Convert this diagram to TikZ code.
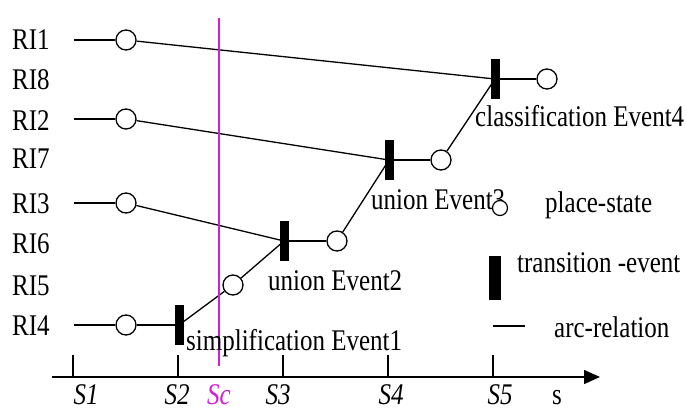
\documentclass[tikz,border=0pt]{standalone}
\usepackage{fontspec}
\usepackage{graphicx}
\setmainfont{Liberation Serif}
\usetikzlibrary{arrows.meta}
\newcommand{\vstr}[1]{\scalebox{1}[1.2]{#1}}
\definecolor{mag}{RGB}{210,30,210}
\begin{document}
\begin{tikzpicture}[x=1pt,y=-1pt,
  txt/.style={inner sep=0pt,anchor=base west,font=\fontsize{25}{30}\selectfont},
  axlab/.style={inner sep=0pt,anchor=base,font=\fontsize{25}{30}\selectfont\itshape},
  place/.style={circle,draw,fill=white,line width=1.3pt,minimum size=20pt,inner sep=0pt},
  trans/.style={rectangle,fill=black,minimum width=9pt,minimum height=40pt,inner sep=0pt},
  arc/.style={line width=1.3pt}]
\useasboundingbox (0,0) rectangle (686,412);
% row labels
\node[txt] (l1) at (12,50) {\vstr{RI1}};
\node[txt] (l8) at (12,90) {\vstr{RI8}};
\node[txt] (l2) at (12,130) {\vstr{RI2}};
\node[txt] (l7) at (12,168) {\vstr{RI7}};
\node[txt] (l3) at (12,213) {\vstr{RI3}};
\node[txt] (l6) at (12,253) {\vstr{RI6}};
\node[txt] (l5) at (12,295) {\vstr{RI5}};
\node[txt] (l4) at (12,335) {\vstr{RI4}};
% start coordinates
\coordinate (s1) at (74,40);
\coordinate (s2) at (74,119);
\coordinate (s3) at (74,203);
\coordinate (s4) at (74,325);
% magenta cut line
\coordinate (mt) at (219,18);
\coordinate (mb) at (219,366);
% transitions
\node[trans] (t1) at (179,325) {};
\node[trans] (t2) at (284,241) {};
\node[trans] (t3) at (389,160) {};
\node[trans] (t4) at (495,79) {};
% places
\node[place] (p1) at (126,40) {};
\node[place] (p2) at (126,119) {};
\node[place] (p3) at (126,203) {};
\node[place] (p4) at (126,325) {};
\node[place] (p5) at (233,285) {};
\node[place] (p6) at (337,241) {};
\node[place] (p7) at (441,160) {};
\node[place] (p8) at (547,79) {};
% arcs
\draw[arc] (s1) -- (p1);
\draw[arc] (s2) -- (p2);
\draw[arc] (s3) -- (p3);
\draw[arc] (s4) -- (p4);
\draw[arc] (p1) -- (t4.center);
\draw[arc] (p2) -- (t3.center);
\draw[arc] (p3) -- (t2.center);
\draw[arc] (p4) -- (t1.center);
\draw[arc] (t1.center) -- (p5);
\draw[arc] (p5) -- (t2.center);
\draw[arc] (t2.center) -- (p6);
\draw[arc] (p6) -- (t3.center);
\draw[arc] (t3.center) -- (p7);
\draw[arc] (p7) -- (t4.center);
\draw[arc] (t4.center) -- (p8);
\draw[mag,line width=1.5pt] (mt) -- (mb);
% event labels
\node[txt] (e4) at (475,126) {\vstr{classification Event4}};
\node[txt] (e3) at (371,209) {\vstr{union Event3}};
\node[txt] (e2) at (268,290) {\vstr{union Event2}};
\node[txt] (e1) at (186,350) {\vstr{simplification Event1}};
% legend
\node[place,line width=1.2pt,minimum size=15pt] (lp) at (500,208) {};
\node[txt] (lpt) at (545,212) {\vstr{place-state}};
\node[trans,minimum width=12pt,minimum height=44pt] (lt) at (495,278) {};
\node[txt] (ltt) at (517,272) {\vstr{transition -event}};
\coordinate (la1) at (493,326);
\coordinate (la2) at (525,326);
\draw[arc] (la1) -- (la2);
\node[txt] (lat) at (554,337) {\vstr{arc-relation}};
% axis
\coordinate (ax0) at (52,377);
\coordinate (ax1) at (600,377);
\draw[line width=1.4pt,-{Triangle[length=16pt,width=14pt]}] (ax0) -- (ax1);
\foreach \x/\n in {73/k1,178/k2,283/k3,388/k4,493/k5}{
  \coordinate (\n a) at (\x,355);
  \coordinate (\n b) at (\x,377);
  \draw[line width=1.3pt] (\n a) -- (\n b);
}
\node[axlab] (S1) at (86,404) {\vstr{S1}};
\node[axlab] (S2) at (177,404) {\vstr{S2}};
\node[axlab,text=mag] (Sc) at (219,404) {\vstr{Sc}};
\node[axlab] (S3) at (278,404) {\vstr{S3}};
\node[axlab] (S4) at (391,404) {\vstr{S4}};
\node[axlab] (S5) at (500,404) {\vstr{S5}};
\node[axlab,font=\fontsize{25}{30}\selectfont] (s) at (557,404) {\vstr{s}};
\end{tikzpicture}
\end{document}
